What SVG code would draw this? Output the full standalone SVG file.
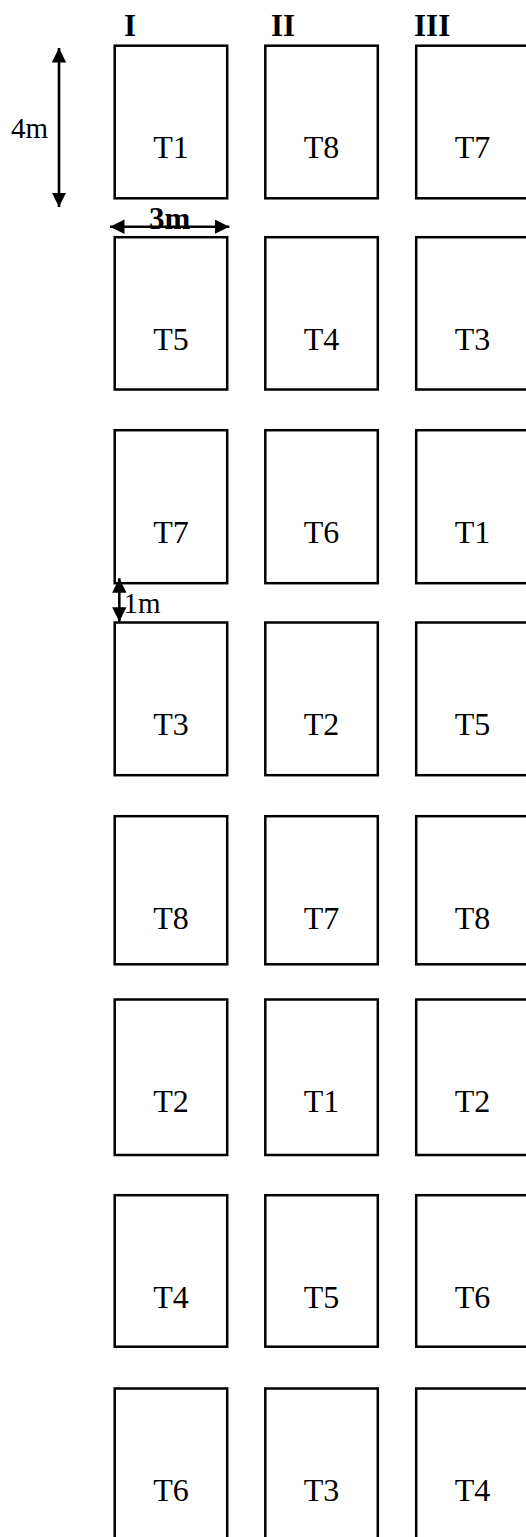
<svg xmlns="http://www.w3.org/2000/svg" width="526" height="1537" viewBox="0 0 526 1537">
<style>
.box{fill:#fff;stroke:#000;stroke-width:2.5}
.lbl{font-family:"Liberation Serif","Times New Roman",serif;font-size:32px;text-anchor:middle;fill:#000}
.hdr{font-family:"Liberation Serif","Times New Roman",serif;font-size:31px;font-weight:bold;fill:#000}
.dim{font-family:"Liberation Serif","Times New Roman",serif;font-size:29px;fill:#000}
.arr{stroke:#000;stroke-width:2.6;fill:none}
</style>
<defs>
<marker id="ah" markerUnits="userSpaceOnUse" markerWidth="15" markerHeight="15" refX="14.5" refY="7.2" orient="auto-start-reverse">
<path d="M0,0 L14.5,7.2 L0,14.4 z" fill="#000"/>
</marker>
</defs>
<g id="headers">
<text class="hdr" x="124" y="36">I</text>
<text class="hdr" x="271" y="36">II</text>
<text class="hdr" x="414" y="36">III</text>
</g>
<g id="row1">
<g id="r1c1"><rect class="box" x="114.7" y="45.7" width="112.5" height="152.6"/><text class="lbl" x="171" y="158.4">T1</text></g>
<g id="r1c2"><rect class="box" x="265.3" y="45.7" width="112.5" height="152.6"/><text class="lbl" x="321.5" y="158.4">T8</text></g>
<g id="r1c3"><rect class="box" x="416.2" y="45.7" width="112.5" height="152.6"/><text class="lbl" x="472.5" y="158.4">T7</text></g>
</g>
<g id="row2">
<g id="r2c1"><rect class="box" x="114.7" y="237.2" width="112.5" height="152.3"/><text class="lbl" x="171" y="349.9">T5</text></g>
<g id="r2c2"><rect class="box" x="265.3" y="237.2" width="112.5" height="152.3"/><text class="lbl" x="321.5" y="349.9">T4</text></g>
<g id="r2c3"><rect class="box" x="416.2" y="237.2" width="112.5" height="152.3"/><text class="lbl" x="472.5" y="349.9">T3</text></g>
</g>
<g id="row3">
<g id="r3c1"><rect class="box" x="114.7" y="430.2" width="112.5" height="153"/><text class="lbl" x="171" y="542.9">T7</text></g>
<g id="r3c2"><rect class="box" x="265.3" y="430.2" width="112.5" height="153"/><text class="lbl" x="321.5" y="542.9">T6</text></g>
<g id="r3c3"><rect class="box" x="416.2" y="430.2" width="112.5" height="153"/><text class="lbl" x="472.5" y="542.9">T1</text></g>
</g>
<g id="row4">
<g id="r4c1"><rect class="box" x="114.7" y="622.5" width="112.5" height="152.7"/><text class="lbl" x="171" y="735.2">T3</text></g>
<g id="r4c2"><rect class="box" x="265.3" y="622.5" width="112.5" height="152.7"/><text class="lbl" x="321.5" y="735.2">T2</text></g>
<g id="r4c3"><rect class="box" x="416.2" y="622.5" width="112.5" height="152.7"/><text class="lbl" x="472.5" y="735.2">T5</text></g>
</g>
<g id="row5">
<g id="r5c1"><rect class="box" x="114.7" y="816.2" width="112.5" height="148.1"/><text class="lbl" x="171" y="928.9">T8</text></g>
<g id="r5c2"><rect class="box" x="265.3" y="816.2" width="112.5" height="148.1"/><text class="lbl" x="321.5" y="928.9">T7</text></g>
<g id="r5c3"><rect class="box" x="416.2" y="816.2" width="112.5" height="148.1"/><text class="lbl" x="472.5" y="928.9">T8</text></g>
</g>
<g id="row6">
<g id="r6c1"><rect class="box" x="114.7" y="999.5" width="112.5" height="155.5"/><text class="lbl" x="171" y="1112.2">T2</text></g>
<g id="r6c2"><rect class="box" x="265.3" y="999.5" width="112.5" height="155.5"/><text class="lbl" x="321.5" y="1112.2">T1</text></g>
<g id="r6c3"><rect class="box" x="416.2" y="999.5" width="112.5" height="155.5"/><text class="lbl" x="472.5" y="1112.2">T2</text></g>
</g>
<g id="row7">
<g id="r7c1"><rect class="box" x="114.7" y="1195.2" width="112.5" height="151.5"/><text class="lbl" x="171" y="1307.9">T4</text></g>
<g id="r7c2"><rect class="box" x="265.3" y="1195.2" width="112.5" height="151.5"/><text class="lbl" x="321.5" y="1307.9">T5</text></g>
<g id="r7c3"><rect class="box" x="416.2" y="1195.2" width="112.5" height="151.5"/><text class="lbl" x="472.5" y="1307.9">T6</text></g>
</g>
<g id="row8">
<g id="r8c1"><rect class="box" x="114.7" y="1388.5" width="112.5" height="160"/><text class="lbl" x="171" y="1501.2">T6</text></g>
<g id="r8c2"><rect class="box" x="265.3" y="1388.5" width="112.5" height="160"/><text class="lbl" x="321.5" y="1501.2">T3</text></g>
<g id="r8c3"><rect class="box" x="416.2" y="1388.5" width="112.5" height="160"/><text class="lbl" x="472.5" y="1501.2">T4</text></g>
</g>
<g id="connectors">
<line class="arr" x1="59" y1="48" x2="59" y2="207" marker-start="url(#ah)" marker-end="url(#ah)"/>
<line class="arr" x1="110" y1="226.7" x2="229.3" y2="226.7" marker-start="url(#ah)" marker-end="url(#ah)"/>
<line class="arr" x1="119.3" y1="578.3" x2="119.3" y2="621.7" marker-start="url(#ah)" marker-end="url(#ah)"/>
</g>
<g id="dimension-labels">
<text class="dim" x="11" y="138.3" font-size="31">4m</text>
<text class="hdr" x="149" y="229" font-size="30">3m</text>
<text class="dim" x="123.5" y="612.7">1m</text>
</g>
</svg>
